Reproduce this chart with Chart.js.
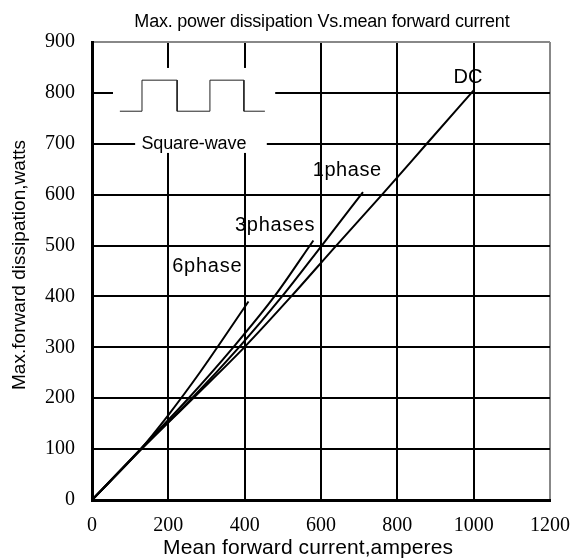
<!DOCTYPE html>
<html>
<head>
<meta charset="utf-8">
<style>
  html, body { margin: 0; padding: 0; background: #fff; }
  #wrap { width: 574px; height: 559px; }
</style>
<script src="https://cdn.jsdelivr.net/npm/chart.js@4/dist/chart.umd.min.js"></script>
</head>
<body>
<div id="wrap"><canvas id="chart" width="574" height="559"></canvas></div>
<script>
(function () {
  'use strict';

  // curves (current in A, power in W)
  var dcX = [0, 130, 265, 399, 522, 640, 760, 877, 1000];
  var dcY = [0, 100, 200, 300, 400, 500, 600, 700, 805];
  var onePhaseX = [0, 128, 262, 385, 498, 602, 710];
  var onePhaseY = [0, 100, 200, 300, 400, 500, 605];
  var threePhaseX = [0, 127, 253, 370, 478, 580];
  var threePhaseY = [0, 100, 200, 300, 400, 510];
  var sixPhaseX = [0, 123, 200, 283, 410];
  var sixPhaseY = [0, 96, 167, 251, 390];

  // little square-wave sketch in the upper left corner
  var waveX = [73, 131, 131, 223, 223, 309, 309, 398, 398, 453];
  var waveY = [764, 764, 825, 825, 764, 764, 825, 825, 764, 764];

  var xTicks = [0, 200, 400, 600, 800, 1000, 1200];
  var yTicks = [0, 100, 200, 300, 400, 500, 600, 700, 800, 900];

  var curveNames = ['DC', '1phase', '3phases', '6phase'];

  function points(xs, ys) {
    return xs.map(function (x, i) {
      return { x: x, y: ys[i] };
    });
  }

  function curve(label, xs, ys) {
    return {
      label: label,
      data: points(xs, ys),
      borderColor: '#000',
      borderWidth: 2,
      pointRadius: 0,
      fill: false,
      cubicInterpolationMode: 'monotone'
    };
  }

  function fitText(ctx, text, x, y, size, width, family) {
    ctx.letterSpacing = '0px';
    ctx.font = size + 'px ' + family;
    var w = ctx.measureText(text).width;
    var ls = (width - w) / text.length;
    ctx.letterSpacing = ls.toFixed(2) + 'px';
    ctx.fillText(text, x + ls / 2, y);
    ctx.letterSpacing = '0px';
  }

  var annotate = {
    id: 'annotate',
    beforeDatasetsDraw: function (chart, args, opts) {
      var ctx = chart.ctx;
      var xs = chart.scales.x;
      var ys = chart.scales.y;
      ctx.save();
      ctx.fillStyle = '#fff';
      opts.boxes.forEach(function (b) {
        var l = xs.getPixelForValue(b[0]);
        var r = xs.getPixelForValue(b[1]);
        var t = ys.getPixelForValue(b[2]);
        var btm = ys.getPixelForValue(b[3]);
        ctx.fillRect(l, t, r - l, btm - t);
      });
      ctx.restore();
    },
    afterDraw: function (chart, args, opts) {
      var ctx = chart.ctx;
      var xs = chart.scales.x;
      var ys = chart.scales.y;
      var sans = '"Liberation Sans", Arial, sans-serif';
      ctx.save();
      ctx.fillStyle = '#000';
      ctx.textAlign = 'center';
      ctx.textBaseline = 'alphabetic';
      opts.labels.forEach(function (lb) {
        fitText(ctx, lb.text, xs.getPixelForValue(lb.x), ys.getPixelForValue(lb.y), lb.size, lb.width, sans);
      });
      fitText(ctx, 'Max. power dissipation Vs.mean forward current', 322, 27, 18, 375, sans);
      fitText(ctx, 'Mean forward current,amperes', 308, 554, 21, 290, sans);
      ctx.translate(25, 265);
      ctx.rotate(-Math.PI / 2);
      fitText(ctx, 'Max.forward dissipation,watts', 0, 0, 19, 250, sans);
      ctx.restore();
    }
  };

  function gridColor(edge) {
    return function (c) {
      return c.tick && c.tick.value === edge ? '#888' : '#000';
    };
  }

  function plain(v) {
    return String(v);
  }

  var serif = '"Liberation Serif", "DejaVu Serif", serif';

  new Chart(document.getElementById('chart'), {
    type: 'line',
    data: {
      datasets: [
        curve(curveNames[0], dcX, dcY),
        curve(curveNames[1], onePhaseX, onePhaseY),
        curve(curveNames[2], threePhaseX, threePhaseY),
        curve(curveNames[3], sixPhaseX, sixPhaseY),
        {
          label: 'Square-wave',
          data: points(waveX, waveY),
          borderColor: '#222',
          borderWidth: 1,
          pointRadius: 0,
          fill: false,
          tension: 0
        }
      ]
    },
    options: {
      responsive: false,
      animation: false,
      layout: { padding: { left: 0, right: 24, top: 42, bottom: 0 } },
      plugins: {
        legend: { display: false },
        tooltip: { enabled: false },
        annotate: {
          boxes: [
            [55, 480, 849, 731],
            [113, 458, 731, 682]
          ],
          labels: [
            { text: 'DC', x: 985, y: 819, size: 20, width: 29 },
            { text: '1phase', x: 668, y: 637, size: 20, width: 69 },
            { text: '3phases', x: 479, y: 529, size: 20, width: 80 },
            { text: '6phase', x: 301, y: 448, size: 20, width: 70 },
            { text: 'Square-wave', x: 267, y: 690, size: 18, width: 105 }
          ]
        }
      },
      scales: {
        x: {
          type: 'linear',
          min: xTicks[0],
          max: xTicks[xTicks.length - 1],
          afterFit: function (s) {
            s.height = 59;
            s.paddingLeft = 0;
            s.paddingRight = 0;
          },
          afterBuildTicks: function (s) {
            s.ticks = xTicks.map(function (v) { return { value: v }; });
          },
          ticks: {
            autoSkip: false,
            maxRotation: 0,
            padding: 14,
            color: '#000',
            callback: plain,
            font: { family: serif, size: 20 }
          },
          grid: { color: gridColor(1200), lineWidth: 2, drawTicks: false },
          border: { display: true, color: '#000', width: 3 }
        },
        y: {
          type: 'linear',
          min: yTicks[0],
          max: yTicks[yTicks.length - 1],
          afterFit: function (s) {
            s.width = 92;
            s.paddingTop = 0;
            s.paddingBottom = 0;
          },
          afterBuildTicks: function (s) {
            s.ticks = yTicks.map(function (v) { return { value: v }; });
          },
          ticks: {
            autoSkip: false,
            padding: 17,
            color: '#000',
            callback: plain,
            font: { family: serif, size: 20 }
          },
          grid: { color: gridColor(900), lineWidth: 2, drawTicks: false },
          border: { display: true, color: '#000', width: 3 }
        }
      }
    },
    plugins: [annotate]
  });
})();
</script>
</body>
</html>
